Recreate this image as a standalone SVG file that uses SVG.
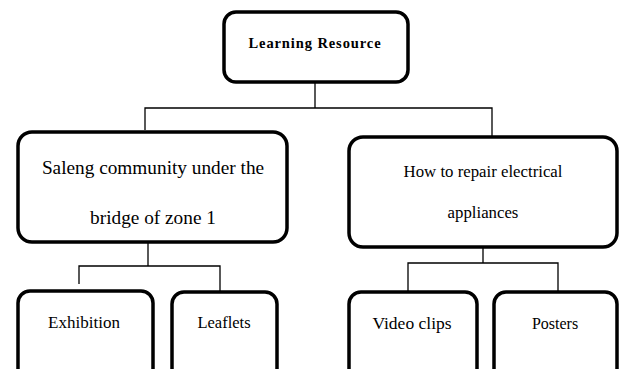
<svg xmlns="http://www.w3.org/2000/svg" width="620" height="369" viewBox="0 0 620 369">
<style>
.box{fill:#fff;stroke:#000;stroke-width:3.5}
.con{fill:none;stroke:#000;stroke-width:1.3}
text{font-family:"Liberation Serif","Times New Roman",serif;fill:#000;text-anchor:middle}
</style>
<rect width="620" height="369" fill="#fff"/>
<g id="connectors">
<path class="con" d="M315 82V108M145 130V108H492V137"/>
<path class="con" d="M148 242V266M79 284V266H220V291"/>
<path class="con" d="M483 247V263M408 291V263H558V291"/>
</g>
<g id="learning-resource">
<rect class="box" x="224" y="12" width="184" height="70" rx="12"/>
<text x="315" y="48" font-size="14.5" font-weight="bold" letter-spacing="0.9">Learning Resource</text>
</g>
<g id="saleng">
<rect class="box" x="18" y="132" width="269" height="110" rx="14"/>
<text x="153" y="174" font-size="19.3">Saleng community under the</text>
<text x="153" y="224" font-size="19.3">bridge of zone 1</text>
</g>
<g id="repair">
<rect class="box" x="349" y="137" width="268" height="110" rx="14"/>
<text x="483" y="177" font-size="16.8">How to repair electrical</text>
<text x="483" y="218" font-size="16.8">appliances</text>
</g>
<g id="exhibition">
<rect class="box" x="18" y="291" width="135" height="90" rx="12"/>
<text x="84" y="328" font-size="17">Exhibition</text>
</g>
<g id="leaflets">
<rect class="box" x="172" y="292" width="105" height="90" rx="12"/>
<text x="224" y="328" font-size="16.5">Leaflets</text>
</g>
<g id="video-clips">
<rect class="box" x="349" y="292" width="128" height="90" rx="12"/>
<text x="412" y="329" font-size="17.5">Video clips</text>
</g>
<g id="posters">
<rect class="box" x="494" y="292" width="123" height="90" rx="12"/>
<text x="555" y="329" font-size="16">Posters</text>
</g>
</svg>
